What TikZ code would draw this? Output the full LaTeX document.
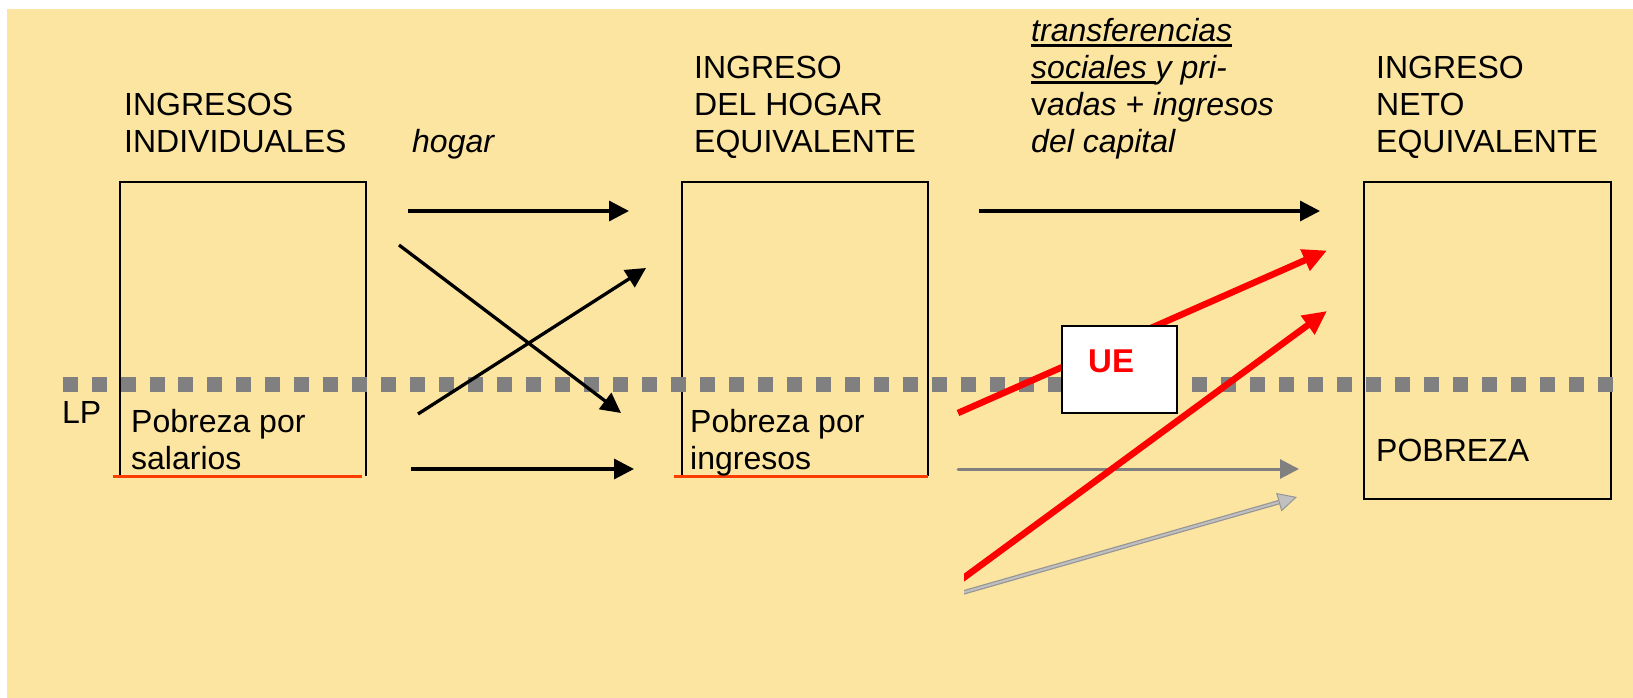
\documentclass[tikz,border=0pt]{standalone}
\usepackage{fontspec}
\setmainfont{Liberation Sans}
\usetikzlibrary{arrows.meta}
\definecolor{bgyellow}{RGB}{252,228,161}
\definecolor{lpgray}{RGB}{128,128,128}
\definecolor{lineorange}{RGB}{255,60,0}
\definecolor{silv}{RGB}{192,192,192}
\definecolor{silvedge}{RGB}{150,150,150}
\newcommand\mlines[1]{\vtop{\halign{##\hfil\cr#1\crcr}}}
\newcommand\thul[1]{\setbox0=\hbox{#1}\rlap{\rule[-5pt]{\wd0}{3.4pt}}\box0}
\tikzset{
  txt/.style={anchor=base west, inner sep=0pt, font=\fontsize{32}{37}\selectfont},
  boxshape/.style={rectangle, inner sep=0pt, minimum width=246pt, minimum height=294pt},
  boxline/.style={line width=1.8pt, black},
  povline/.style={line width=3.3pt, lineorange},
  blackarrow/.style={line width=3.3pt, black, -{Triangle[length=20pt,width=20pt]}},
  redarrow/.style={line width=6.5pt, red, -{Triangle[length=24pt,width=22pt]}},
  grayarrow/.style={line width=3pt, lpgray, -{Triangle[length=19pt,width=19pt]}},
}
\begin{document}
\begin{tikzpicture}[x=1pt,y=-1pt]
\useasboundingbox (0,0) rectangle (1633,698);
\fill[bgyellow] (7,9) rectangle (1633,698);

% boxes
\node[boxshape] (b1) at (243,329) {};
\node[boxshape] (b2) at (805,329) {};
\node[boxshape, minimum width=247pt, minimum height=317pt, draw, line width=1.8pt] (b3) at (1487.5,340.5) {};
\draw[boxline] (b1.south west) -- (b1.north west) -- (b1.north east) -- (b1.south east);
\draw[boxline] (b2.south west) -- (b2.north west) -- (b2.north east) -- (b2.south east);
\draw[povline] ([xshift=-7pt]b1.south west) -- ([xshift=-4pt]b1.south east);
\draw[povline] ([xshift=-8pt]b2.south west) -- (b2.south east);

% poverty line
\coordinate (lpa) at (62.6,384.5);
\coordinate (lpb) at (1613,384.5);
\draw[line width=15.5pt, lpgray, dash pattern=on 15pt off 13.97pt] (lpa) -- (lpb);

% arrows between box 1 and box 2
\coordinate (a1s) at (408,211);  \coordinate (a1e) at (629,211);
\coordinate (a2s) at (399,245);  \coordinate (a2e) at (621,413);
\coordinate (a3s) at (418,414);  \coordinate (a3e) at (646,268);
\coordinate (a4s) at (411,469);  \coordinate (a4e) at (634,469);
\draw[blackarrow] (a1s) -- (a1e);
\draw[blackarrow] (a2s) -- (a2e);
\draw[blackarrow] (a3s) -- (a3e);
\draw[blackarrow] (a4s) -- (a4e);

% arrows between box 2 and box 3
\coordinate (a5s) at (979,211);  \coordinate (a5e) at (1320,211);
\draw[blackarrow] (a5s) -- (a5e);
\coordinate (r1s) at (958,413);  \coordinate (r1e) at (1327,250.5);
\draw[redarrow] (r1s) -- (r1e);
\coordinate (g1s) at (958,469);  \coordinate (g1e) at (1299,469);
\draw[grayarrow, line cap=round] (g1s) -- (g1e);
\begin{scope}
  \clip (964,0) rectangle (1633,698);
  \coordinate (r2s) at (958,582);  \coordinate (r2e) at (1327,311);
  \draw[redarrow] (r2s) -- (r2e);
  \coordinate (l1s) at (958,594);  \coordinate (l1e) at (1297,497);
  \draw[line width=4.5pt, silvedge, -{Triangle[length=19pt,width=19pt,fill=silv,line width=1pt]}] (l1s) -- (l1e);
  \draw[line width=2pt, silv, shorten >=19pt] (l1s) -- (l1e);
\end{scope}

% UE box
\node[rectangle, draw, line width=2.5pt, fill=white, minimum width=115pt, minimum height=87pt, inner sep=0pt] (uebox) at (1119.5,369.5) {};
\node[anchor=base west, inner sep=0pt, text=red, font=\fontsize{33}{37}\selectfont\bfseries] (ue) at (1088,372.5) {UE};

% titles
\node[txt] (t1) at (124,116) {\mlines{INGRESOS\cr INDIVIDUALES}};
\node[txt, font=\fontsize{32}{37}\selectfont\itshape] (t2) at (412,153) {hogar};
\node[txt] (t3) at (694,79) {\mlines{INGRESO\cr DEL HOGAR\cr EQUIVALENTE}};
\node[txt, font=\fontsize{32}{37}\selectfont\itshape] (t4) at (1031,42) {\mlines{\thul{transferencias}\cr \thul{sociales\ }y pri-\cr {\upshape v}adas + ingresos\cr del capital}};
\node[txt] (t5) at (1376,79) {\mlines{INGRESO\cr NETO\cr EQUIVALENTE}};

% labels
\node[txt] (lp) at (62,423) {LP};
\node[txt] (p1) at (131,432) {\mlines{Pobreza por\cr salarios}};
\node[txt] (p2) at (690,432) {\mlines{Pobreza por\cr ingresos}};
\node[txt] (p3) at (1376,461) {POBREZA};
\end{tikzpicture}
\end{document}
